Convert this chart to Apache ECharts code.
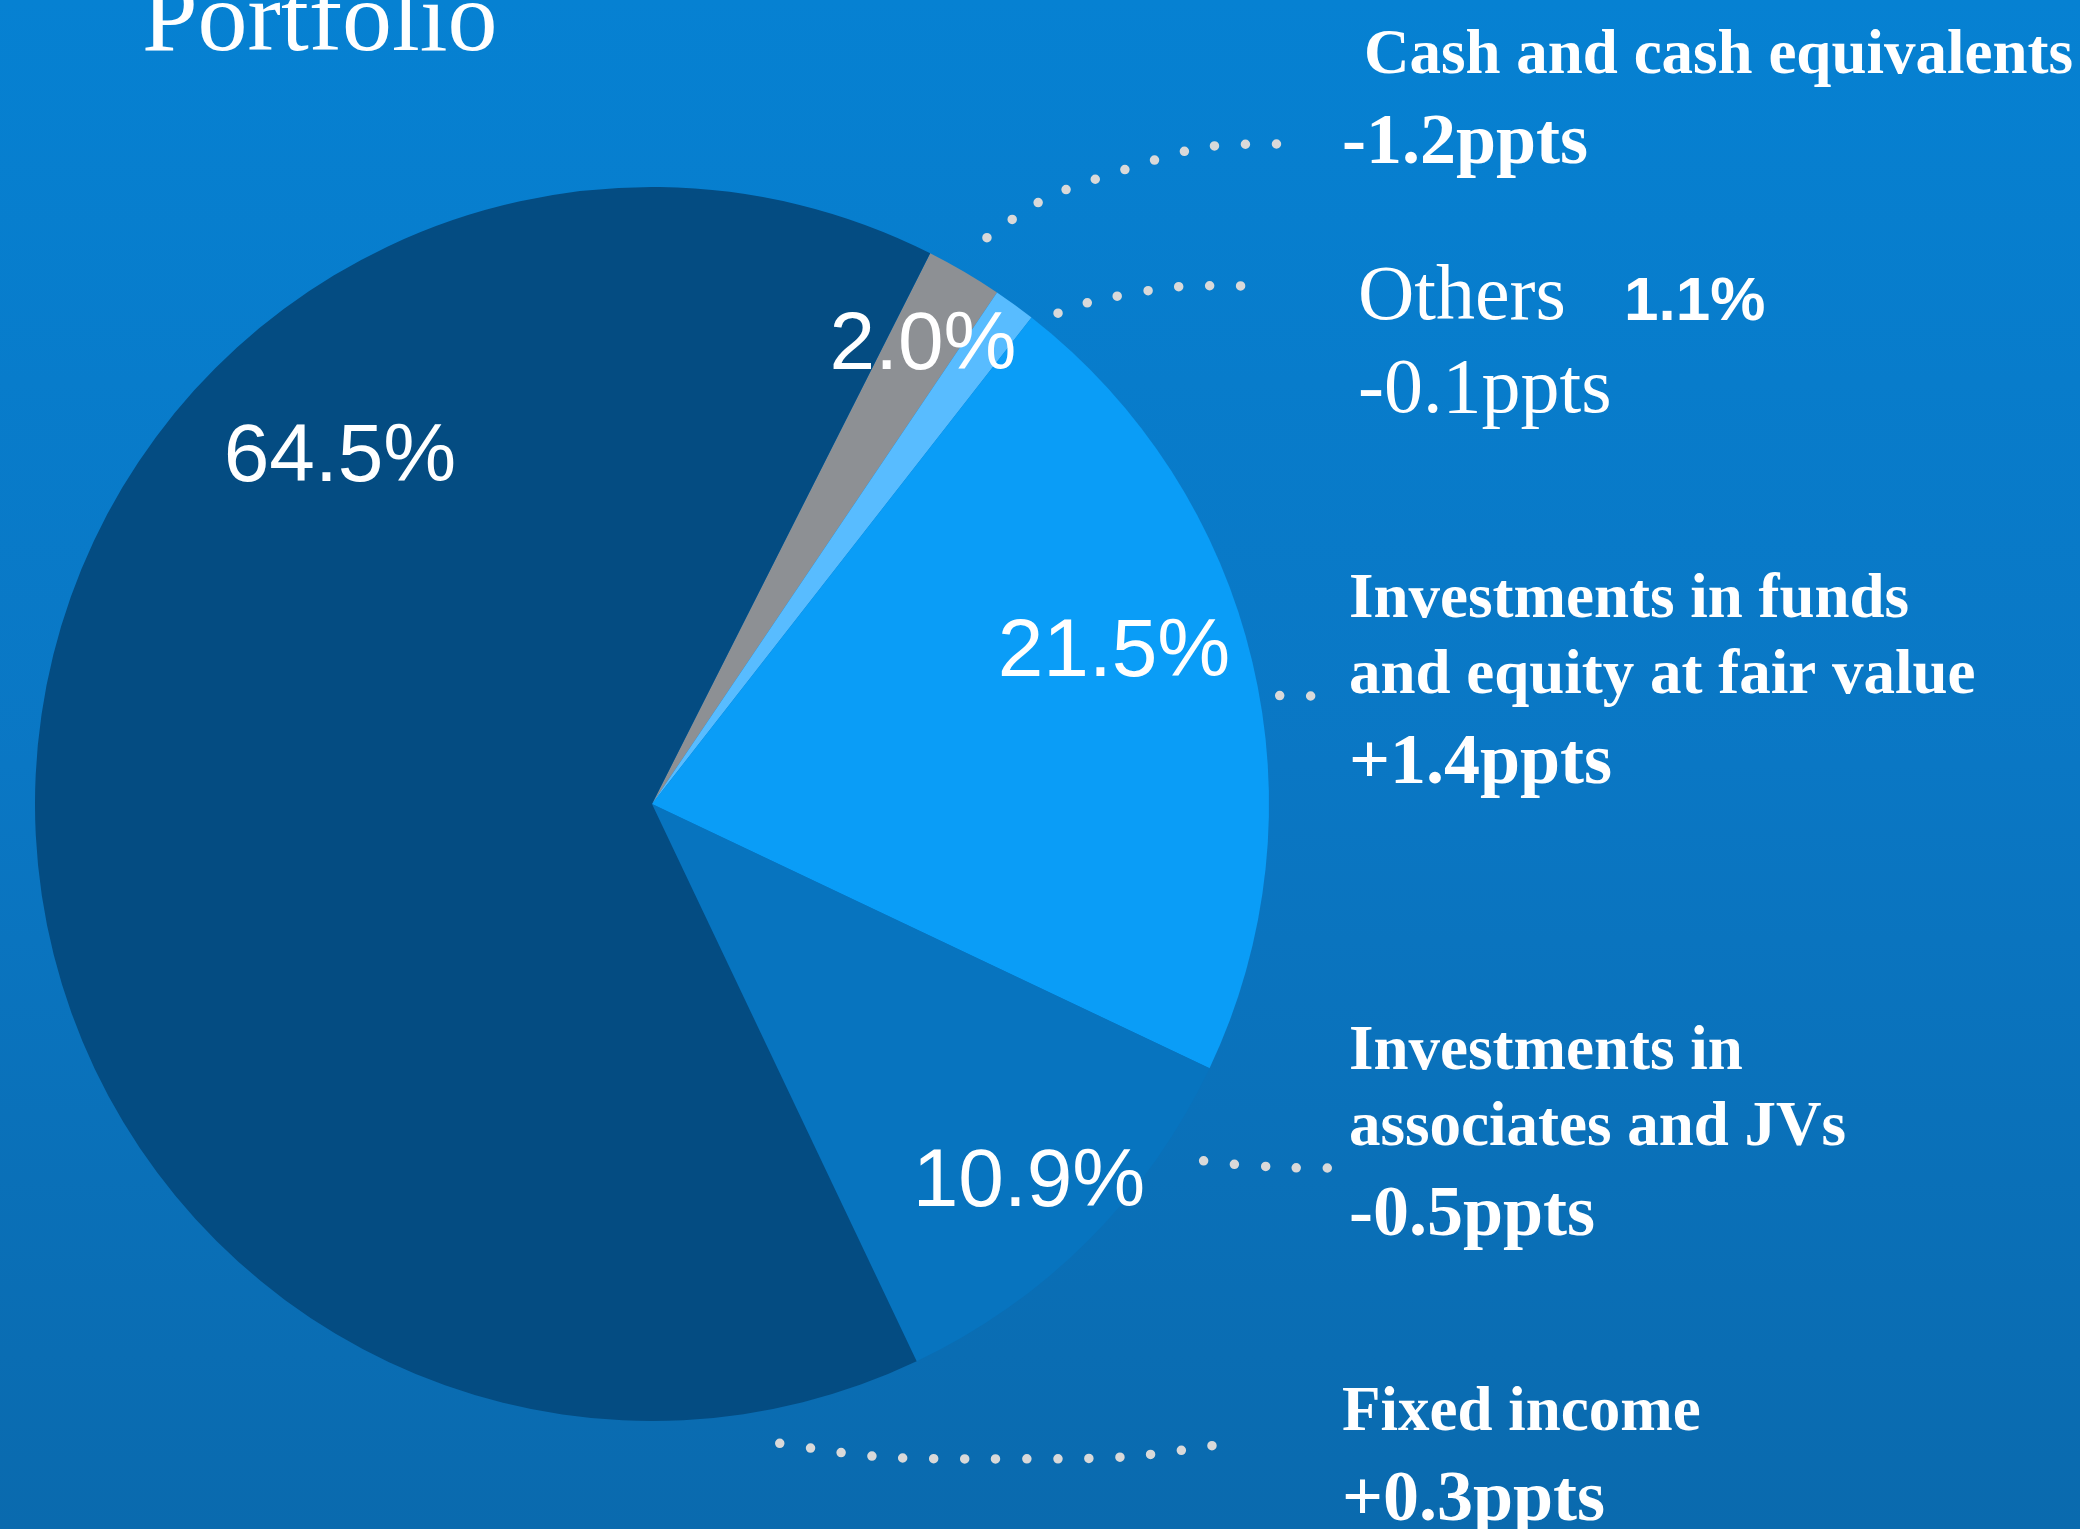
<!DOCTYPE html>
<html>
<head>
<meta charset="utf-8">
<title>Portfolio</title>
<script src="https://cdn.jsdelivr.net/npm/echarts@6/dist/echarts.min.js"></script>
<style>
  html, body { margin: 0; padding: 0; }
  #main { width: 2080px; height: 1529px; }
</style>
</head>
<body>
<div id="main"></div>
<script>
// slices, clockwise from the top
var categories = ['Cash and cash equivalents', 'Others', 'Investments in funds and equity at fair value', 'Investments in associates and JVs', 'Fixed income'];
var shares = [2.0, 1.1, 21.5, 10.9, 64.5];      // % of portfolio
var changes = [-1.2, -0.1, 1.4, -0.5, 0.3];     // ppts
var nameLines = [
  ['Cash and cash equivalents'],
  ['Others'],
  ['Investments in funds', 'and equity at fair value'],
  ['Investments in', 'associates and JVs'],
  ['Fixed income']
];

var colors = ['#8d9094', '#58bcff', '#0a9df7', '#0774bf', '#044c82'];

// layout (px)
var CX = 652, CY = 804, R = 617;
var pctPos = [[923, 346], null, [1114, 653], [1029, 1183], [340, 458]];
var boxPos = [[1342, 19], [1358, 252], [1349, 563], [1349, 1015], [1342, 1376]];
// leader: start angle (deg clockwise from 12 o'clock), start radius, bend, end
var leaders = [
  [30.6, 658, [1116, 144], [1290, 144]],
  [39.6, 637, [1134, 285], [1250, 286]],
  [80.2, 637, [1299, 696], [1318, 696]],
  [122.9, 657, [1260, 1168], [1334, 1168]],
  [168.7, 652, [1004, 1478], [1229, 1443]]
];

function fmtChange(v) {
  return (v > 0 ? '+' : '') + v.toFixed(1) + 'ppts';
}

var chart = echarts.init(document.getElementById('main'));

var pieData = categories.map(function (c, i) {
  return {
    name: c,
    value: shares[i],
    itemStyle: { color: colors[i] },
    label: { show: pctPos[i] != null }
  };
});

chart.setOption({
  animation: false,
  backgroundColor: {
    type: 'linear', x: 0, y: 0, x2: 0, y2: 1,
    colorStops: [
      { offset: 0, color: '#0681d2' },
      { offset: 0.5, color: '#0a77c4' },
      { offset: 1, color: '#0a6aae' }
    ]
  },
  title: {
    text: 'Portfolio',
    left: 142,
    top: -26,
    padding: 0,
    textStyle: {
      fontFamily: 'Liberation Serif',
      fontSize: 100,
      fontWeight: 'normal',
      color: '#ffffff'
    }
  },
  series: [
    {
      name: 'share',
      type: 'pie',
      center: [CX, CY],
      radius: R,
      startAngle: 63.2,
      clockwise: true,
      silent: true,
      itemStyle: { borderWidth: 0 },
      label: {
        position: 'inside',
        formatter: function (p) { return shares[p.dataIndex].toFixed(1) + '%'; },
        fontFamily: 'Liberation Sans',
        fontSize: 82,
        color: '#ffffff'
      },
      labelLine: { show: false },
      labelLayout: function (p) {
        var pos = pctPos[p.dataIndex];
        if (!pos) return {};
        return { x: pos[0], y: pos[1], align: 'center', verticalAlign: 'middle' };
      },
      data: pieData
    },
    {
      name: 'notes',
      type: 'pie',
      center: [CX, CY],
      radius: R,
      startAngle: 63.2,
      clockwise: true,
      silent: true,
      z: 3,
      itemStyle: { color: 'rgba(0,0,0,0)', borderWidth: 0 },
      label: {
        show: true,
        position: 'outside',
        width: 760,
        overflow: 'none',
        align: 'left',
        formatter: function (p) {
          var i = p.dataIndex;
          if (i === 1) {
            return '{on|' + nameLines[i][0] + '}{op|' + shares[i].toFixed(1) + '%}\n{on|' + fmtChange(changes[i]) + '}';
          }
          var first = i === 0 ? 'nmc' : 'nm';
          return nameLines[i].map(function (s, k) { return '{' + (k === 0 ? first : 'nm') + '|' + s + '}'; }).join('\n') +
            '\n{dl|' + fmtChange(changes[i]) + '}';
        },
        rich: {
          nm: { fontFamily: 'Liberation Serif', fontSize: 63, fontWeight: 'bold', lineHeight: 76, color: '#ffffff' },
          nmc: { fontFamily: 'Liberation Serif', fontSize: 63, fontWeight: 'bold', lineHeight: 76, color: '#ffffff', padding: [0, 0, 0, 22] },
          dl: { fontFamily: 'Liberation Serif', fontSize: 72, fontWeight: 'bold', lineHeight: 98, color: '#ffffff' },
          on: { fontFamily: 'Liberation Serif', fontSize: 78, fontWeight: 'normal', lineHeight: 93, color: '#ffffff' },
          op: { fontFamily: 'Liberation Sans', fontSize: 62, fontWeight: 'bold', lineHeight: 85, color: '#ffffff', padding: [8, 0, 0, 58] }
        }
      },
      labelLine: {
        show: true,
        smooth: 0.55,
        lineStyle: { color: '#d9d9d9', width: 9.5, type: [0, 31], cap: 'round' }
      },
      labelLayout: function (p) {
        var i = p.dataIndex;
        var ld = leaders[i];
        var a = ld[0] * Math.PI / 180;
        var start = [CX + ld[1] * Math.sin(a), CY - ld[1] * Math.cos(a)];
        return {
          x: boxPos[i][0],
          y: boxPos[i][1],
          align: 'left',
          verticalAlign: 'top',
          labelLinePoints: [start, ld[2], ld[3]]
        };
      },
      data: pieData.map(function (d) { return { name: d.name, value: d.value }; })
    }
  ]
});
</script>
</body>
</html>
